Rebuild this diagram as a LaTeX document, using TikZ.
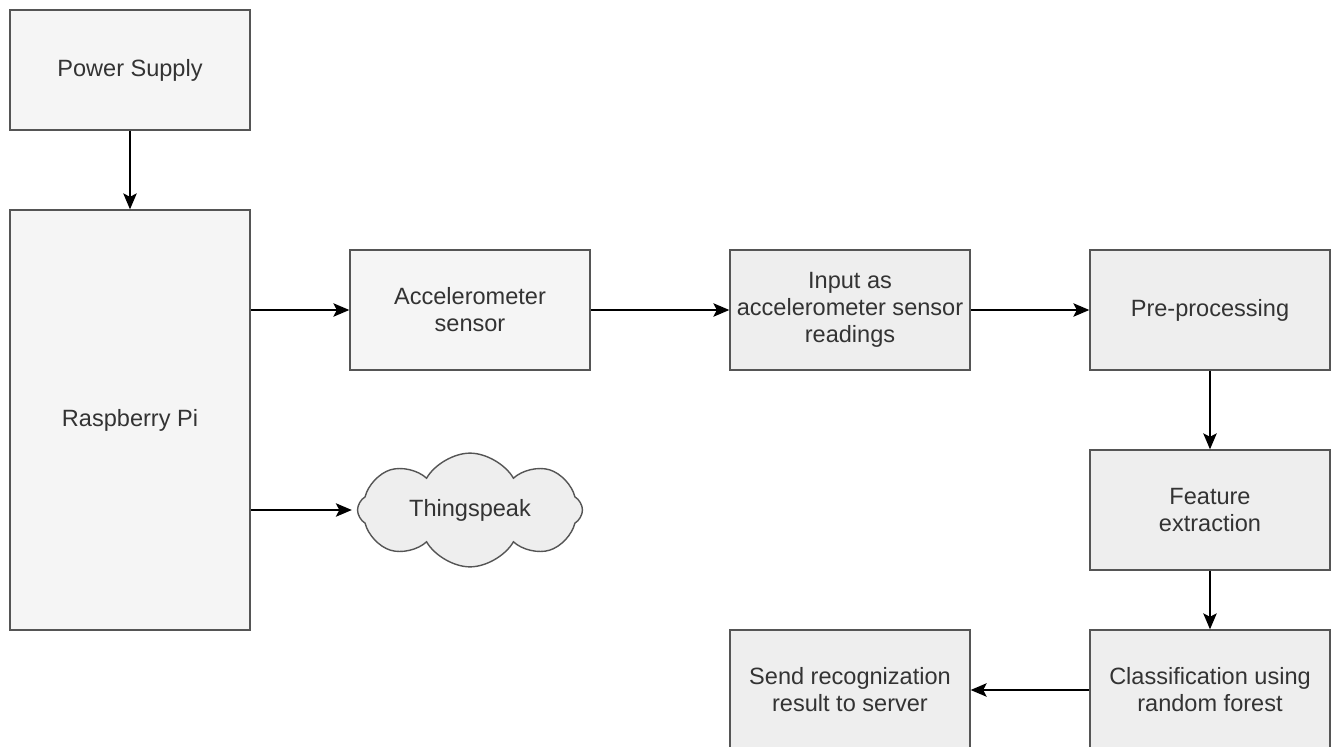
\documentclass[tikz,border=0pt]{standalone}
\usepackage{fontspec}
\setmainfont{Liberation Sans}
\usetikzlibrary{arrows.meta,shapes.symbols}
\definecolor{boxline}{HTML}{555555}
\definecolor{boxfill}{HTML}{F5F5F5}
\definecolor{stepfill}{HTML}{EEEEEE}
\definecolor{txt}{HTML}{333333}
\tikzset{
  block/.style={draw=boxline, line width=0.8pt, fill=boxfill, text=txt,
    minimum width=4.8cm, minimum height=2.4cm, align=center,
    font=\fontsize{13.4}{15.4}\selectfont},
  stepbox/.style={block, fill=stepfill},
  flow/.style={line width=0.9pt, -{Stealth[length=0.32cm,width=0.27cm,inset=0.07cm]}}
}
\begin{document}
\begin{tikzpicture}[x=0.02cm, y=-0.02cm]
\useasboundingbox (0,0) rectangle (1333,747);

% left column
\node[block] (power) at (130, 70) {Power Supply};
\node[block, minimum height=8.4cm] (rpi) at (130, 420) {Raspberry Pi};
\node[block] (accel) at (470, 310) {Accelerometer\\sensor};
\node[cloud, cloud puffs=8, cloud puff arc=120, aspect=2.1, draw=boxline,
  line width=0.8pt, fill=stepfill, text=txt, minimum width=4.5cm,
  minimum height=2.2cm, inner sep=0pt, font=\fontsize{13.4}{15.4}\selectfont]
  (cloud) at (470, 510) {Thingspeak};

% processing chain
\node[stepbox] (input) at (850, 310) {Input as\\accelerometer sensor\\readings};
\node[stepbox] (pre) at (1210, 310) {Pre-processing};
\node[stepbox] (feat) at (1210, 510) {Feature\\extraction};
\node[stepbox] (clf) at (1210, 690) {Classification using\\random forest};
\node[stepbox] (send) at (850, 690) {Send recognization\\result to server};

\draw[flow] (power) -- (rpi);
\draw[flow] (rpi.east |- accel.west) -- (accel.west);
\draw[flow] (rpi.east |- cloud.west) -- ([xshift=-0.1cm]cloud.west);
\draw[flow] (accel) -- (input);
\draw[flow] (input) -- (pre);
\draw[flow] (pre) -- (feat);
\draw[flow] (feat) -- (clf);
\draw[flow] (clf) -- (send);
\end{tikzpicture}
\end{document}
